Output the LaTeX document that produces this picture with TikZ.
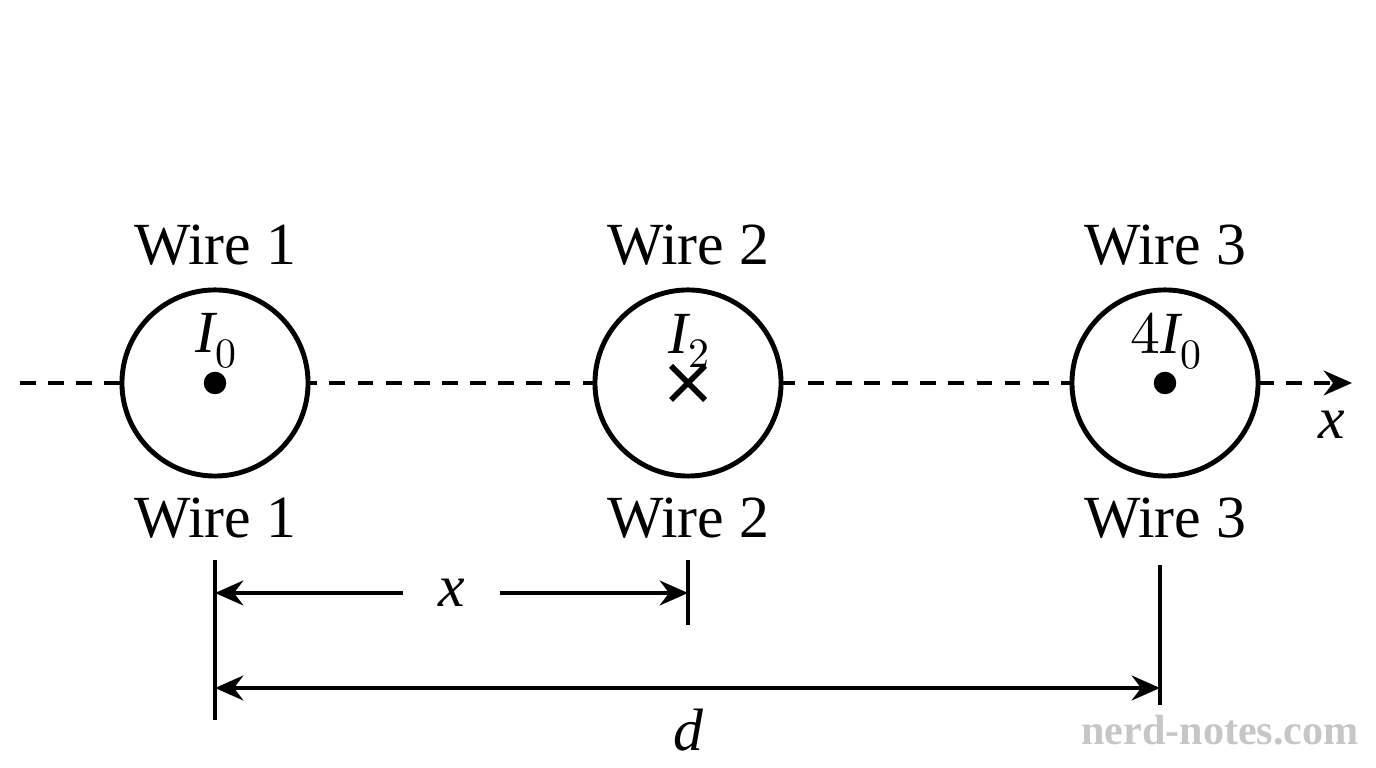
\documentclass[tikz,border=0pt]{standalone}
\usepackage{fontspec}
\setmainfont{Liberation Serif}
\usepackage{unicode-math}
\setmathfont{Latin Modern Math}
\setmathfont[range={it/{latin,Latin}}]{Liberation Serif Italic}
\usetikzlibrary{positioning,arrows.meta}

\begin{document}
\begin{tikzpicture}[x=0.01cm,y=-0.01cm,>={Stealth[length=8pt,width=7pt]},
  font=\fontsize{17}{20}\selectfont,
  wire/.style={circle,draw,line width=1.4pt,minimum size=1.86cm,inner sep=0pt},
  dim/.style={line width=1.4pt},
  ]
  \useasboundingbox (0,0) rectangle (1376,768);
  % axis
  \coordinate (xs) at (20,383);
  \coordinate (xe) at (1352,383);
  \draw[dim,dashed,dash pattern=on 4.5pt off 3.5pt,->] (xs) -- (xe);
  \node (xl) at (1332,425) {$x$};
  % wires
  \foreach \n/\px/\lab in {1/215/{$I_0$},2/688/{$I_2$},3/1165/{$4I_0$}}{
    \node[wire,fill=white] (w\n) at (\px,383) {};
    \node (top\n) at (\px,245) {Wire \n};
    \node (bot\n) at (\px,518) {Wire \n};
    \node (cur\n) at (\px+2,341) {\lab};
  }
  \fill (w1) circle (3.2pt);
  \fill (w3) circle (3.2pt);
  \draw[line width=1.6pt] (w2)++(-17,-17) -- ++(34,34) (w2)++(17,-17) -- ++(-34,34);
  % dimensions
  \coordinate (a1) at (215,560); \coordinate (a2) at (215,720);
  \coordinate (b1) at (688,560); \coordinate (b2) at (688,625);
  \coordinate (c1) at (1160,565); \coordinate (c2) at (1160,705);
  \draw[dim] (a1) -- (a2) (b1) -- (b2) (c1) -- (c2);
  \coordinate (xa) at (215,593); \coordinate (xb) at (688,593);
  \draw[dim,<->] (xa) -- node[fill=white,inner xsep=10pt] (xlab) {$x$} (xb);
  \coordinate (da) at (215,688); \coordinate (db) at (1160,688);
  \draw[dim,<->] (da) -- (db);
  \node (dlab) at (688,730) {$d$};
  \node[text=gray!45,font=\fontsize{12}{14}\selectfont\bfseries] (wm) at (1220,730) {nerd-notes.com};
\end{tikzpicture}
\end{document}
